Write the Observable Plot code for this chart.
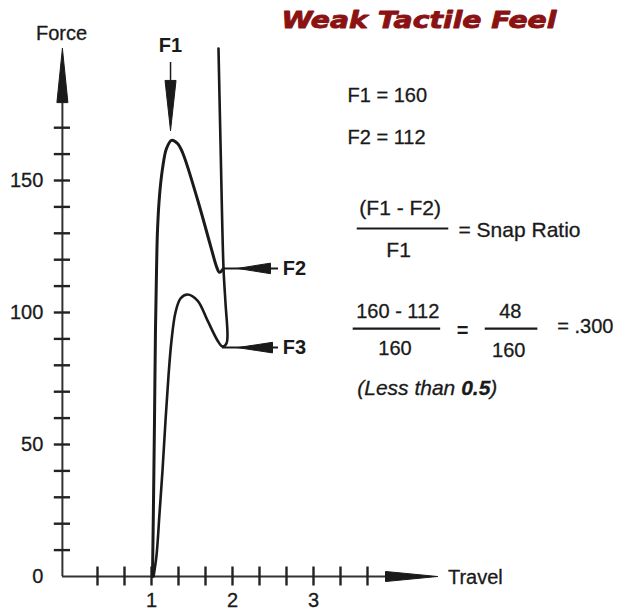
<!DOCTYPE html>
<html>
<head>
<meta charset="utf-8">
<script src="https://cdn.jsdelivr.net/npm/d3@7"></script>
<script src="https://cdn.jsdelivr.net/npm/@observablehq/plot@0.6"></script>
<style>
  html, body { margin: 0; padding: 0; background: #fff; }
  #chart { width: 618px; height: 612px; }
</style>
</head>
<body>
<div id="chart"></div>
<script>
// ---- data ----
const title = "Weak Tactile Feel";
const xLabel = "Travel";
const yLabel = "Force";
const travelTickValues = [1/3, 2/3, 1, 4/3, 5/3, 2, 7/3, 8/3, 3, 10/3, 11/3];
const travelTickLabels = [1, 2, 3];
const forceTickValues = [10, 20, 30, 40, 50, 60, 70, 80, 90, 100, 110, 120, 130, 140, 150, 160, 170];
const forceTickLabels = [0, 50, 100, 150];

// press (actuation) curve
const pressTravel = [1.012, 1.025, 1.037, 1.049, 1.062, 1.074, 1.099, 1.136, 1.185, 1.247, 1.321, 1.383, 1.568, 1.735, 1.805, 1.840, 1.889];
const pressForce  = [0,     28.8,  59.1,  93.2,  115.9, 131.1, 144.3, 154.5, 162.1, 165.2, 164,   160.6, 142.8, 124.6, 117.2, 115.2, 116.7];
// bottom-out and return curve
const releaseTravel = [1.827, 1.855, 1.889, 1.914, 1.938, 1.926, 1.877, 1.815, 1.691, 1.568, 1.444, 1.358, 1.296, 1.247, 1.210, 1.173, 1.136, 1.099, 1.062, 1.025];
const releaseForce  = [200,   160,   116.7, 103.4, 91.3,  88.3,  87.1,  89.4,  97,    104.5, 106.8, 105.3, 100,   89.4,  76.1,  59.1,  40.2,  23.9,  8.0,   0];

const F1 = 160, F2 = 112;
const F2level = 116.7, F3level = 86.7;

// ---- build tables ----
const press = pressTravel.map((x, i) => ({x, y: pressForce[i]}));
const release = releaseTravel.map((x, i) => ({x, y: releaseForce[i]}));

const axisX0 = -0.1;     // where the force axis stands
const axisTop = 200;     // tip of force axis arrow
const axisRight = 4.53;  // tip of travel axis arrow
const ink = "#1a1a1a";

function vWedge(id, x, tipY, baseY, hw) {
  return [{id, x, y: tipY}, {id, x: x - hw, y: baseY}, {id, x: x + hw, y: baseY}, {id, x, y: tipY}];
}
function hWedge(id, y, tipX, baseX, hw) {
  return [{id, x: tipX, y}, {id, x: baseX, y: y - hw}, {id, x: baseX, y: y + hw}, {id, x: tipX, y}];
}
const wedges = [
  ...vWedge("yaxis", axisX0, axisTop, 179.5, 0.068),
  ...hWedge("xaxis", 0, axisRight, 3.889, 1.9),
  ...vWedge("f1", 1.235, 168.9, 187.9, 0.068),
  ...hWedge("f2", F2level, 2.062, 2.469, 2.0),
  ...hWedge("f3", F3level, 2.062, 2.494, 2.0)
];

const snap = ((F1 - F2) / F1).toFixed(3).replace(/^0/, "");

const font = "Liberation Sans, Arial, Helvetica, sans-serif";

const chart = Plot.plot({
  width: 618,
  height: 612,
  marginLeft: 70,
  marginRight: 62,
  marginTop: 48,
  marginBottom: 36,
  x: {domain: [0, 6], axis: null},
  y: {domain: [0, 200], axis: null},
  style: {fontFamily: font, background: "#fff", color: ink},
  marks: [
    // axes
    Plot.ruleX([axisX0], {y1: 0, y2: 185, stroke: "#333", strokeWidth: 2}),
    Plot.ruleY([0], {x1: axisX0, x2: 4.0, stroke: "#333", strokeWidth: 2}),
    Plot.ruleY(forceTickValues, {x1: axisX0 - 0.1, x2: axisX0 + 0.1, stroke: "#222", strokeWidth: 2.4}),
    Plot.ruleX(travelTickValues, {y1: -3.6, y2: 3.6, stroke: "#222", strokeWidth: 2.4}),
    Plot.text(forceTickLabels, {x: -0.335, y: d => d, text: d => String(d), textAnchor: "end", fontSize: 20, fill: ink, stroke: ink, strokeWidth: 0.3}),
    Plot.text(travelTickLabels, {x: d => d, y: -9.2, text: d => String(d), fontSize: 20, fill: ink, stroke: ink, strokeWidth: 0.3}),
    Plot.text([yLabel], {x: -0.11, y: 205.7, text: d => d, fontSize: 20, fill: ink, letterSpacing: 1, stroke: ink, strokeWidth: 0.3}),
    Plot.text([xLabel], {x: 4.66, y: -0.3, text: d => d, textAnchor: "start", fontSize: 20, fill: ink, stroke: ink, strokeWidth: 0.3}),
    // curves
    Plot.line(press, {x: "x", y: "y", stroke: ink, strokeWidth: 3, curve: "catmull-rom"}),
    Plot.line(release, {x: "x", y: "y", stroke: ink, strokeWidth: 2.6, curve: "catmull-rom"}),
    // arrow tails
    Plot.ruleX([1.235], {y1: 187.9, y2: 194.7, stroke: ink, strokeWidth: 1.5}),
    Plot.ruleY([F2level], {x1: 1.889, x2: 2.568, stroke: ink, strokeWidth: 2}),
    Plot.ruleY([F3level], {x1: 1.877, x2: 2.568, stroke: ink, strokeWidth: 2}),
    Plot.line(wedges, {x: "x", y: "y", z: "id", fill: ink, stroke: ink, strokeWidth: 1}),
    // marker labels
    Plot.text(["F1"], {x: 1.235, y: 201, text: d => d, fontSize: 20, fontWeight: "bold", fill: ink}),
    Plot.text(["F2"], {x: 2.62, y: F2level, text: d => d, textAnchor: "start", fontSize: 20, fontWeight: "bold", fill: ink}),
    Plot.text(["F3"], {x: 2.62, y: F3level, text: d => d, textAnchor: "start", fontSize: 20, fontWeight: "bold", fill: ink}),
    // title
    Plot.text([title], {x: 4.302, y: 210.6, text: d => d, fontSize: 23, fontWeight: "bold", fontStyle: "italic", fill: "#8b1212", stroke: "#8b1212", strokeWidth: 0.9, fontFamily: "DejaVu Sans"}),
    // equations
    Plot.text([`F1 = ${F1}`, `F2 = ${F2}`], {x: 3.42, y: (d, i) => [182.2, 166.3][i], text: d => d, textAnchor: "start", fontSize: 20, fill: ink, stroke: ink, strokeWidth: 0.3}),
    Plot.text(["(F1 - F2)"], {x: 4.07, y: 139.4, text: d => d, fontSize: 21, fill: ink, stroke: ink, strokeWidth: 0.3}),
    Plot.ruleY([131.8], {x1: 3.54, x2: 4.67, stroke: ink, strokeWidth: 2}),
    Plot.text(["F1"], {x: 4.05, y: 123.5, text: d => d, fontSize: 21, fill: ink, stroke: ink, strokeWidth: 0.3}),
    Plot.text(["= Snap Ratio"], {x: 4.79, y: 131, text: d => d, textAnchor: "start", fontSize: 21, fill: ink, stroke: ink, strokeWidth: 0.3}),
    Plot.text([`${F1} - ${F2}`], {x: 4.04, y: 100.5, text: d => d, fontSize: 20, fill: ink, stroke: ink, strokeWidth: 0.3}),
    Plot.ruleY([93.9], {x1: 3.49, x2: 4.57, stroke: ink, strokeWidth: 2.2}),
    Plot.text([`${F1}`], {x: 4.006, y: 86.4, text: d => d, fontSize: 20, fill: ink, stroke: ink, strokeWidth: 0.3}),
    Plot.text(["="], {x: 4.84, y: 93.2, text: d => d, fontSize: 20, fontWeight: "bold", fill: ink}),
    Plot.text([`${F1 - F2}`], {x: 5.43, y: 100.5, text: d => d, fontSize: 20, fill: ink, stroke: ink, strokeWidth: 0.3}),
    Plot.ruleY([93.9], {x1: 5.12, x2: 5.77, stroke: ink, strokeWidth: 2.2}),
    Plot.text([`${F1}`], {x: 5.41, y: 85.6, text: d => d, fontSize: 20, fill: ink, stroke: ink, strokeWidth: 0.3}),
    Plot.text([`= ${snap}`], {x: 6.01, y: 94.6, text: d => d, textAnchor: "start", fontSize: 20, fill: ink, stroke: ink, strokeWidth: 0.3}),
    Plot.text(["(Less than 0.5)"], {x: 3.54, y: 71.2, text: d => d, textAnchor: "start", fontSize: 21, fontStyle: "italic", fill: ink, stroke: ink, strokeWidth: 0.3})
  ]
});

// stretch the heavy title to its drawn width, and embolden "0.5"
d3.select(chart).selectAll("text").each(function () {
  const t = d3.select(this);
  if (this.textContent === title) {
    t.attr("textLength", 275).attr("lengthAdjust", "spacingAndGlyphs");
  } else if (this.textContent === "(Less than 0.5)") {
    t.text(null);
    t.append("tspan").text("(Less than ");
    t.append("tspan").attr("font-weight", "bold").text("0.5");
    t.append("tspan").text(")");
  }
});

document.getElementById("chart").appendChild(chart);
</script>
</body>
</html>
